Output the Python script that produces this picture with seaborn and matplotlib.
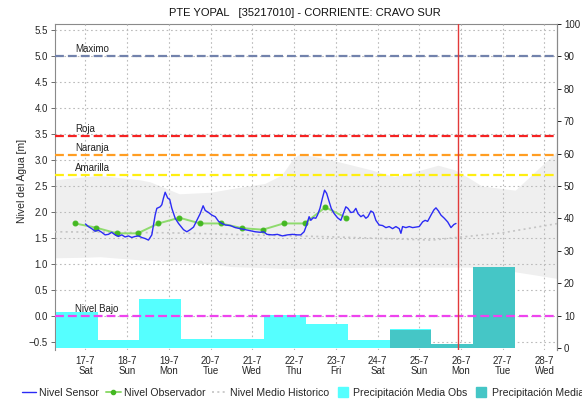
"""
PTE YOPAL [35217010] - Cravo Sur: water level vs. thresholds and daily precipitation.
Saves out.png
"""

import matplotlib
matplotlib.use("Agg")
import matplotlib.pyplot as plt
import seaborn as sns
from matplotlib.lines import Line2D
from matplotlib.ticker import MultipleLocator

# -------------------------------
# Data (x = days counted from 17-7 00:00)
# -------------------------------
day_ticks = list(range(12))
day_labels = ["17-7\nSat", "18-7\nSun", "19-7\nMon", "20-7\nTue", "21-7\nWed", "22-7\nThu",
              "23-7\nFri", "24-7\nSat", "25-7\nSun", "26-7\nMon", "27-7\nTue", "28-7\nWed"]

sensor_day = [0.00, 0.07, 0.15, 0.23, 0.31, 0.39, 0.47, 0.55, 0.63, 0.71, 0.79, 0.87, 0.95,
              1.03, 1.11, 1.19, 1.27, 1.35, 1.43, 1.51, 1.59, 1.63, 1.67, 1.71, 1.79, 1.83,
              1.87, 1.91, 1.97, 2.02, 2.07, 2.15, 2.23, 2.35, 2.43, 2.51, 2.59, 2.67, 2.75,
              2.82, 2.87, 2.95, 3.03, 3.11, 3.19, 3.27, 3.35, 3.47, 3.59, 3.71, 3.83, 3.95,
              4.07, 4.19, 4.27, 4.35, 4.48, 4.60, 4.72, 4.84, 4.96, 5.08, 5.16, 5.24, 5.30,
              5.36, 5.40, 5.46, 5.52, 5.56, 5.62, 5.68, 5.73, 5.78, 5.84, 5.89, 5.96, 6.04,
              6.12, 6.18, 6.24, 6.29, 6.36, 6.42, 6.48, 6.53, 6.60, 6.66, 6.72, 6.77, 6.84,
              6.90, 6.96, 7.04, 7.12, 7.20, 7.28, 7.36, 7.44, 7.52, 7.56, 7.60, 7.68, 7.76,
              7.84, 7.92, 8.00, 8.08, 8.14, 8.20, 8.28, 8.35, 8.40, 8.46, 8.52, 8.60, 8.68,
              8.76, 8.83, 8.88]
sensor_level = [1.77, 1.72, 1.68, 1.63, 1.65, 1.61, 1.56, 1.57, 1.61, 1.56, 1.53, 1.56, 1.52,
                1.54, 1.51, 1.53, 1.54, 1.51, 1.49, 1.46, 1.56, 1.75, 1.94, 2.07, 2.10, 2.14,
                2.27, 2.38, 2.27, 2.24, 2.07, 1.88, 1.78, 1.66, 1.62, 1.66, 1.71, 1.84, 1.97,
                2.12, 2.03, 1.99, 1.94, 1.91, 1.82, 1.78, 1.75, 1.74, 1.70, 1.68, 1.66, 1.64,
                1.62, 1.61, 1.62, 1.57, 1.56, 1.57, 1.54, 1.56, 1.57, 1.56, 1.56, 1.62, 1.75,
                1.91, 1.84, 1.89, 1.88, 1.94, 2.07, 2.27, 2.42, 2.36, 2.20, 2.07, 1.97, 1.89,
                1.84, 1.97, 2.10, 2.07, 1.99, 2.00, 2.07, 1.97, 1.91, 1.94, 1.88, 1.91, 2.02,
                1.99, 1.84, 1.75, 1.74, 1.70, 1.72, 1.68, 1.72, 1.68, 1.59, 1.72, 1.70, 1.72,
                1.70, 1.71, 1.72, 1.81, 1.84, 1.82, 1.94, 2.04, 2.08, 2.02, 1.94, 1.88, 1.81,
                1.70, 1.76, 1.78]

obs_day = [-0.25, 0.25, 0.75, 1.25, 1.75, 2.25, 2.75, 3.25, 3.75, 4.25, 4.75, 5.25, 5.75, 6.25]
obs_level = [1.78, 1.70, 1.59, 1.59, 1.78, 1.89, 1.78, 1.78, 1.69, 1.66, 1.78, 1.78, 2.09, 1.89]

band_day = [-0.73, 0.0, 0.35, 1.3, 1.55, 2.25, 3.0, 3.5, 4.3, 4.7, 5.0, 5.15, 5.9, 6.85,
            7.1, 7.4, 8.05, 8.45, 8.85, 9.2, 9.5, 10.3, 11.33]
band_upper = [2.62, 2.68, 2.70, 2.62, 2.58, 2.35, 2.38, 2.45, 2.55, 2.71, 3.05, 3.12, 3.00,
              2.81, 2.75, 2.68, 2.81, 2.90, 2.81, 2.65, 2.50, 2.42, 3.19]
band_lower = [1.12, 1.13, 1.14, 1.08, 1.07, 1.04, 1.00, 0.95, 0.93, 0.92, 0.92, 0.92, 0.93,
              0.94, 0.94, 0.94, 0.94, 0.94, 0.94, 0.94, 0.92, 0.85, 0.72]

mean_day = [-0.73, 2.0, 4.0, 6.0, 8.3, 10.0, 11.33]
mean_level = [1.62, 1.60, 1.56, 1.52, 1.46, 1.60, 1.78]

# daily precipitation (07:00 to 07:00)
precip_obs_start = [-0.71, 0.29, 1.29, 2.29, 3.29, 4.29, 5.29, 6.29, 7.29]
precip_obs = [11.0, 2.5, 15.2, 2.8, 2.8, 10.2, 7.4, 2.5, 6.0]
precip_fc_start = [7.29, 8.29, 9.29]
precip_fc = [5.6, 1.4, 25.1]

threshold_names = ["Maximo", "Roja", "Naranja", "Amarilla", "Nivel Bajo"]
threshold_levels = [5.0, 3.47, 3.1, 2.72, 0.0]
threshold_colors = ["#7282AC", "#F52222", "#FF9D22", "#FFEE11", "#EE44EE"]

now_day = 8.92

# -------------------------------
# Figure
# -------------------------------
sns.set_theme(style="white")
plt.rcParams["font.family"] = ["Liberation Sans", "DejaVu Sans"]

fig = plt.figure(figsize=(5.82, 4.01), dpi=100)
ax = fig.add_axes([0.0945, 0.1272, 0.8625, 0.8128])
axp = ax.twinx()   # precipitation (right axis)
axl = ax.twinx()   # level lines drawn above the bars

xlim = (-0.73, 11.30)
ylim = (-0.654, 5.615)

# base axis: grid + historical band
ax.set_xlim(*xlim)
ax.set_ylim(*ylim)
ax.set_yticks([-0.5 + 0.5 * i for i in range(13)])
ax.set_xticks(day_ticks)
ax.set_xticklabels(day_labels, fontsize=7, linespacing=1.1)
ax.xaxis.set_minor_locator(MultipleLocator(1 / 24))
ax.tick_params(axis="x", which="major", length=0, pad=4)
ax.tick_params(axis="x", which="minor", length=1.5, width=0.6, color="black", direction="out")
ax.tick_params(axis="y", length=3, width=0.6, color="#555555", labelsize=7, pad=2, left=True)
ax.grid(True, color="#BBBBBB", linestyle=(0, (1.5, 2.5)), linewidth=0.8)
ax.fill_between(band_day, band_lower, band_upper, color="#EFEFEF", lw=0, zorder=0.4)
ax.set_axisbelow(False)
for s in ["left", "top", "right"]:
    ax.spines[s].set_color("#8A8A8A")
    ax.spines[s].set_linewidth(0.8)
ax.spines["bottom"].set_visible(False)
ax.set_ylabel("Nivel del Agua [m]", fontsize=7.5)
ax.yaxis.set_label_coords(-0.056, 0.52)

# precipitation bars
axp.bar(precip_obs_start, precip_obs, width=1.0, align="edge", color="#55FFFF", lw=0)
axp.bar(precip_fc_start, precip_fc, width=1.0, align="edge", color="#45C6C6", lw=0)
axp.set_ylim(-0.6, 100)
axp.set_yticks(range(0, 101, 10))
axp.tick_params(axis="y", length=3, width=0.6, color="black", labelsize=7, pad=2, right=True)
for s in ["left", "top", "bottom"]:
    axp.spines[s].set_visible(False)
axp.spines["right"].set_color("#8A8A8A")
axp.spines["right"].set_linewidth(0.8)

# level lines
axl.set_ylim(*ylim)
axl.set_yticks([])
for s in axl.spines.values():
    s.set_visible(False)

for name, lev, col in zip(threshold_names, threshold_levels, threshold_colors):
    axl.axhline(lev, color=col, lw=1.6, dashes=(4, 1.8))
    axl.text(-0.24, lev + 0.03, name, fontsize=7, color="#222222", va="bottom", ha="left")

sns.lineplot(x=mean_day, y=mean_level, ax=axl, color="#C4C4C4", lw=1.2,
             linestyle=(0, (1.2, 2.0)), estimator=None, sort=False)
sns.lineplot(x=obs_day, y=obs_level, ax=axl, color="#8FDB6E", lw=1.4, marker="o",
             markersize=3.5, markerfacecolor="#44B822", markeredgecolor="#44B822",
             estimator=None, sort=False)
sns.lineplot(x=sensor_day, y=sensor_level, ax=axl, color="#2B2BF5", lw=1.0,
             estimator=None, sort=False)
axl.axvline(now_day, color="#E23A3A", lw=1.0)
axl.set_xlim(*xlim)

fig.text(0.524, 0.968, "PTE YOPAL   [35217010] - CORRIENTE: CRAVO SUR",
         ha="center", va="center", fontsize=8, color="#111111")

handles = [
    Line2D([], [], color="#2B2BF5", lw=1.0),
    Line2D([], [], color="#8FDB6E", lw=1.4, marker="o", markersize=3,
           markerfacecolor="#44B822", markeredgecolor="#44B822"),
    Line2D([], [], color="#C4C4C4", lw=1.2, linestyle=(0, (1.2, 2.0))),
    Line2D([], [], linestyle="None", marker="s", markersize=6.5, color="#55FFFF"),
    Line2D([], [], linestyle="None", marker="s", markersize=6.5, color="#45C6C6"),
]
labels = ["Nivel Sensor", "Nivel Observador", "Nivel Medio Historico",
          "Precipitación Media Obs", "Precipitación Media Pronosticada"]
fig.legend(handles, labels, loc="center left", bbox_to_anchor=(0.037, 0.02), ncol=5,
           frameon=False, fontsize=7.6, handlelength=1.4, markerscale=1.0,
           handletextpad=0.3, columnspacing=0.6, borderaxespad=0, borderpad=0)

fig.savefig("out.png", dpi=100)
